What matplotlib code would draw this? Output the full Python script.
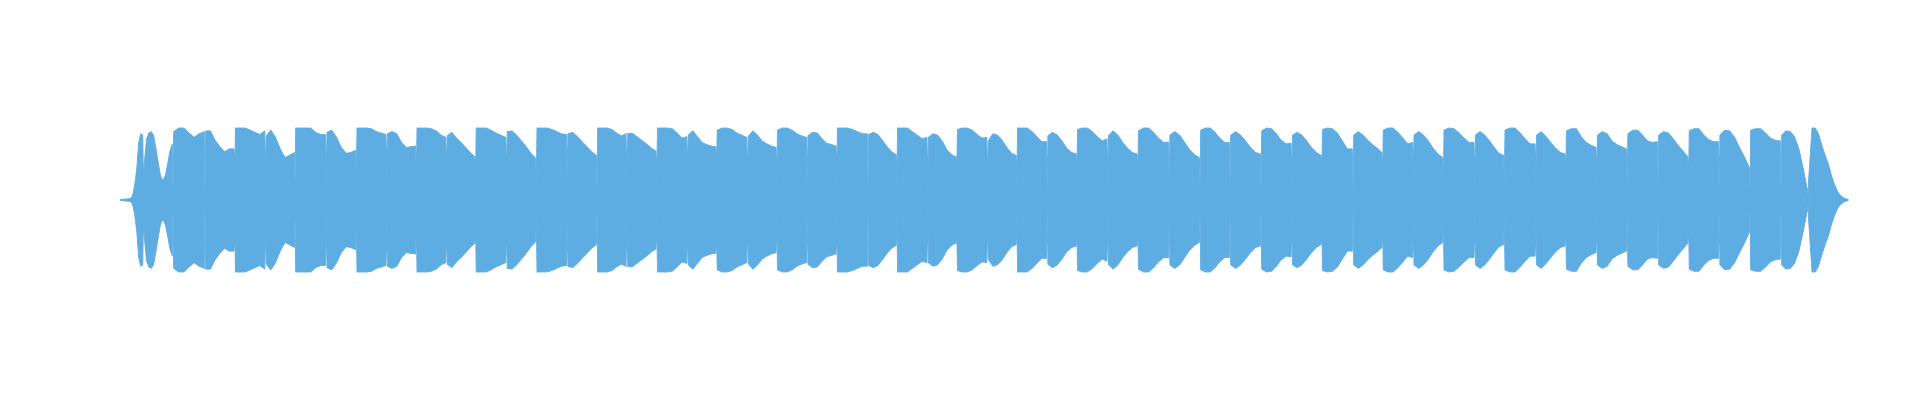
import numpy as np
import matplotlib
matplotlib.use("Agg")
import matplotlib.pyplot as plt

# boundaries between notes (frame index), first = note 1 onset, last = end of final note
bounds = [130, 143, 172.5, 204.5, 234.2, 265, 294.5, 325.8, 355.8, 386.2, 415.8,
          446, 475, 506, 535.8, 566.7, 596.5, 626.2, 656.2, 687, 716,
          747, 776.2, 806.7, 836.2, 867.5, 896.3, 927.2, 956.2, 987, 1016.3,
          1046.7, 1076.3, 1107.2, 1137.2, 1168.7, 1199.5, 1229.5, 1260.5, 1291.2, 1321.2,
          1352.5, 1382, 1412.8, 1442.8, 1474.2, 1503.8, 1535.3, 1565.2, 1596.2, 1626.7,
          1657.5, 1688, 1718.7, 1749.5, 1780.5, 1807.5, 1848.3]

# amplitude level reached in each short gap between notes
gap_amp = [0.13, 0.18, 0.13, 0.26, 0.15, 0.24, 0.15, 0.27, 0.31, 0.3,
           0.3, 0.3, 0.13, 0.25, 0.3, 0.2, 0.2, 0.15, 0.3, 0.35,
           0.15, 0.15, 0.15, 0.2, 0.2, 0.2, 0.1, 0.3, 0.15, 0.15,
           0.12, 0.3, 0.2, 0.2, 0.2, 0.2, 0.2, 0.2, 0.2, 0.25,
           0.15, 0.15, 0.3, 0.15, 0.15, 0.25, 0.25, 0.25, 0.2, 0.25,
           0.25, 0.15, 0.15, 0.15, 0.15, 0.05]

# envelope of each note (normalised peak amplitude, evenly spaced over the note)
envelopes = [
    [0.02, 0.06, 0.2, 0.42, 0.8, 0.92, 0.9],
    [0.5, 0.85, 0.93, 0.95, 0.9, 0.72, 0.52, 0.33, 0.27, 0.34, 0.5, 0.68, 0.78],
    [0.95, 1.0, 1.0, 0.93, 0.87, 0.92, 0.95],
    [0.96, 0.96, 0.83, 0.74, 0.67, 0.71, 0.71],
    [1.0, 1.0, 1.0, 0.97, 0.94, 0.91, 0.96],
    [0.89, 0.97, 0.87, 0.71, 0.59, 0.62, 0.66],
    [1.0, 1.0, 1.0, 1.0, 0.94, 0.91, 0.91],
    [0.94, 0.97, 0.87, 0.73, 0.65, 0.66, 0.69],
    [1.0, 1.0, 1.0, 0.99, 0.95, 0.93, 0.91],
    [0.92, 0.95, 0.92, 0.8, 0.73, 0.74, 0.75],
    [1.0, 1.0, 1.0, 0.99, 0.96, 0.9, 0.87],
    [0.89, 0.94, 0.86, 0.8, 0.73, 0.66, 0.6],
    [1.0, 1.0, 1.0, 0.97, 0.93, 0.9, 0.87],
    [0.95, 0.96, 0.9, 0.82, 0.74, 0.65, 0.58],
    [1.0, 1.0, 1.0, 0.98, 0.95, 0.92, 0.91],
    [0.92, 0.94, 0.88, 0.81, 0.74, 0.67, 0.62],
    [1.0, 1.0, 1.0, 0.98, 0.93, 0.89, 0.92],
    [0.92, 0.93, 0.88, 0.83, 0.78, 0.72, 0.68],
    [1.0, 1.0, 1.0, 0.99, 0.93, 0.86, 0.88],
    [0.9, 0.96, 0.88, 0.8, 0.77, 0.75, 0.74],
    [0.97, 1.0, 1.0, 0.98, 0.93, 0.9, 0.87],
    [0.88, 0.96, 0.9, 0.82, 0.78, 0.75, 0.73],
    [0.97, 1.0, 1.0, 0.97, 0.92, 0.89, 0.87],
    [0.89, 0.94, 0.93, 0.85, 0.79, 0.77, 0.75],
    [1.0, 1.0, 1.0, 0.98, 0.95, 0.92, 0.92],
    [0.91, 0.94, 0.91, 0.83, 0.74, 0.67, 0.63],
    [1.0, 1.0, 1.0, 0.95, 0.9, 0.85, 0.87],
    [0.87, 0.92, 0.9, 0.82, 0.7, 0.63, 0.6],
    [0.98, 1.0, 1.0, 0.97, 0.91, 0.86, 0.87],
    [0.82, 0.92, 0.9, 0.83, 0.73, 0.65, 0.62],
    [1.0, 1.0, 1.0, 0.95, 0.88, 0.81, 0.81],
    [0.89, 0.94, 0.9, 0.82, 0.72, 0.66, 0.64],
    [0.98, 1.0, 1.0, 0.95, 0.88, 0.82, 0.85],
    [0.89, 0.96, 0.9, 0.8, 0.72, 0.66, 0.64],
    [0.96, 1.0, 1.0, 0.94, 0.86, 0.8, 0.8],
    [0.9, 0.95, 0.9, 0.8, 0.7, 0.63, 0.59],
    [0.97, 1.0, 1.0, 0.94, 0.86, 0.8, 0.8],
    [0.9, 0.95, 0.9, 0.82, 0.73, 0.66, 0.64],
    [0.96, 1.0, 0.99, 0.92, 0.83, 0.78, 0.79],
    [0.9, 0.94, 0.9, 0.82, 0.73, 0.66, 0.62],
    [0.98, 1.0, 0.99, 0.93, 0.82, 0.71, 0.71],
    [0.9, 0.95, 0.9, 0.83, 0.77, 0.72, 0.66],
    [0.97, 1.0, 1.0, 0.94, 0.86, 0.78, 0.8],
    [0.9, 0.95, 0.9, 0.82, 0.72, 0.64, 0.59],
    [0.97, 1.0, 0.99, 0.93, 0.86, 0.8, 0.8],
    [0.9, 0.95, 0.9, 0.82, 0.73, 0.65, 0.62],
    [0.97, 1.0, 1.0, 0.93, 0.85, 0.78, 0.78],
    [0.9, 0.95, 0.88, 0.8, 0.72, 0.66, 0.64],
    [0.96, 0.99, 0.99, 0.88, 0.8, 0.76, 0.73],
    [0.9, 0.95, 0.92, 0.82, 0.77, 0.74, 0.71],
    [0.92, 0.97, 0.97, 0.9, 0.82, 0.8, 0.81],
    [0.9, 0.95, 0.93, 0.85, 0.76, 0.68, 0.6],
    [0.96, 0.99, 0.99, 0.9, 0.84, 0.81, 0.81],
    [0.9, 0.97, 0.96, 0.87, 0.73, 0.6, 0.45],
    [0.97, 0.99, 0.99, 0.93, 0.86, 0.83, 0.82],
    [0.9, 0.96, 0.95, 0.88, 0.72, 0.45, 0.15],
    [0.3, 1.0, 1.0, 0.92, 0.76, 0.62, 0.5, 0.33, 0.2, 0.1, 0.05, 0.02, 0.01],
]

lead_start = 120
silence = 0.008

# build the envelope curve
t = [lead_start]
a = [silence]
for i, env in enumerate(envelopes):
    t0, t1 = bounds[i], bounds[i + 1]
    pad = 0.7 if i > 0 else 0.0
    xs = np.linspace(t0 + pad, t1 - 0.7, len(env))
    t.extend(xs)
    a.extend(env)
    if i < len(gap_amp):
        t.append(t1)
        a.append(gap_amp[i])
t = np.array(t)
a = np.array(a)
a = np.maximum(a, silence)

fig = plt.figure(figsize=(19.2, 4), dpi=100)
ax = fig.add_axes([0, 0, 1, 1])
ax.fill_between(t, -a, a, color='#5dade2', linewidth=0.6, edgecolor='#5dade2')
ax.set_xlim(0, 1920)
ax.set_ylim(-200.5 / 72, 199.5 / 72)
ax.axis('off')
fig.savefig('out.png', dpi=100)
